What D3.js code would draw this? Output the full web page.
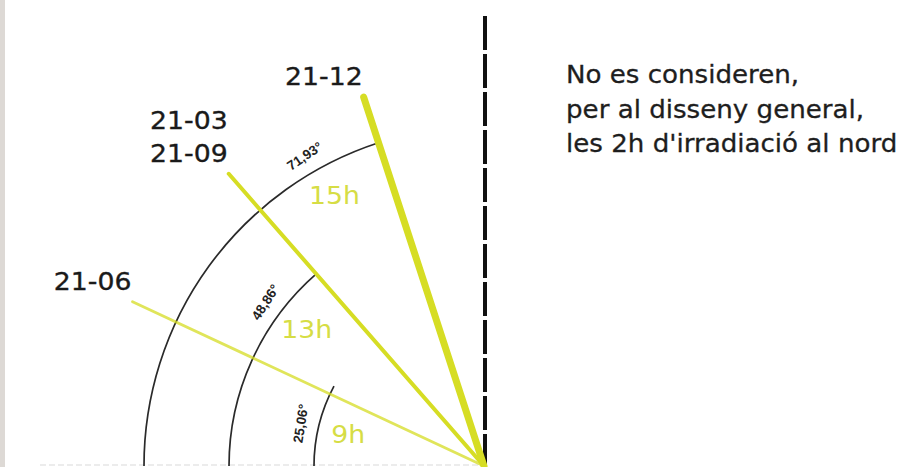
<!DOCTYPE html>
<html>
<head>
<meta charset="utf-8">
<script src="https://cdn.jsdelivr.net/npm/d3@7"></script>
<style>
  html, body { margin: 0; padding: 0; background: #fff; }
  svg { display: block; }
</style>
</head>
<body>
<svg id="chart" width="903" height="467"></svg>
<script>
// ---------- data ----------
const dateLabels   = [["21-06"], ["21-03", "21-09"], ["21-12"]];
const altitudes    = [25.06, 48.86, 71.93];           // degrees
const angleLabels  = ["25,06°", "48,86°", "71,93°"];
const hourLabels   = ["9h", "13h", "15h"];
const noteLines    = ["No es consideren,", "per al disseny general,", "les 2h d'irradiació al nord"];

// ---------- layout ----------
const W = 903, H = 467;
const origin = { x: 484, y: 466 };
const rayLength = 388;
const rayWidths = [2.8, 4, 7];
const yellow = "#d6dd24";
const FONT = "DejaVu Sans, Verdana, sans-serif";
const STRETCH = 1.07;

const svg = d3.select("#chart");

// scales
const deg = d3.scaleLinear().domain([0, 180]).range([0, Math.PI]);
const radius = d3.scaleLinear().domain([0, altitudes.length - 1]).range([170, 340]);

function polar(r, aDeg) {
  const a = deg(aDeg);
  return [origin.x - r * Math.cos(a), origin.y - r * Math.sin(a)];
}

// left grey border strip
svg.append("rect").attr("x", 0).attr("y", 0).attr("width", 5).attr("height", H).attr("fill", "#ddd9d5");

// faint baseline
svg.append("line")
  .attr("x1", 40).attr("x2", origin.x).attr("y1", origin.y - 1).attr("y2", origin.y - 1)
  .attr("stroke", "#e6e6e6").attr("stroke-width", 1.5).attr("stroke-dasharray", "6,3");

// vertical dashed line
svg.append("line")
  .attr("x1", origin.x + 1).attr("x2", origin.x + 1)
  .attr("y1", 16).attr("y2", H)
  .attr("stroke", "#111").attr("stroke-width", 4)
  .attr("stroke-dasharray", "34,4");

const idx = d3.range(altitudes.length);

// arcs
svg.selectAll("path.arc").data(idx).join("path")
  .attr("class", "arc")
  .attr("fill", "none").attr("stroke", "#2a2a2a").attr("stroke-width", 1.7)
  .attr("d", i => {
    const p = d3.path();
    const end = altitudes[i] + (i === 0 ? 3 : 0);
    p.arc(origin.x, origin.y, radius(i), Math.PI, Math.PI + deg(end), false);
    return p.toString();
  });

// rays
svg.selectAll("line.ray").data(idx).join("line")
  .attr("class", "ray")
  .attr("x1", origin.x).attr("y1", origin.y)
  .attr("x2", i => polar(rayLength, altitudes[i])[0])
  .attr("y2", i => polar(rayLength, altitudes[i])[1])
  .attr("stroke", yellow)
  .attr("stroke-width", i => rayWidths[i])
  .attr("stroke-linecap", "round")
  .attr("opacity", i => i === 0 ? 0.75 : 1);

// angle labels along arcs
svg.selectAll("text.angle").data(idx).join("text")
  .attr("class", "angle")
  .attr("transform", i => {
    const a = altitudes[i] - 12;
    const [x, y] = polar(radius(i) + 18, a);
    return `translate(${x},${y}) rotate(${a - 94})`;
  })
  .attr("text-anchor", "middle").attr("dominant-baseline", "central")
  .attr("font-family", "Liberation Sans, Arial, sans-serif")
  .attr("font-size", 13.5).attr("font-weight", "bold").attr("fill", "#222")
  .text(i => angleLabels[i]);

// hour labels
svg.selectAll("text.hour").data(idx).join("text")
  .attr("class", "hour")
  .attr("transform", i => {
    const [x, y] = polar(radius(i) - 28, altitudes[i] - 11);
    return `translate(${x + 2},${y + 11}) scale(${STRETCH},1)`;
  })
  .attr("text-anchor", "middle")
  .attr("font-family", FONT)
  .attr("font-size", 25).attr("fill", "#d6dd45")
  .text(i => hourLabels[i]);

// date labels at ray ends
idx.forEach(i => {
  const [x, y] = polar(rayLength, altitudes[i]);
  const lines = dateLabels[i];
  lines.forEach((s, k) => {
    svg.append("text")
      .attr("transform", `translate(${x - 1},${y - 12 - (lines.length - 1 - k) * 33}) scale(${STRETCH},1)`)
      .attr("text-anchor", "end")
      .attr("font-family", FONT)
      .attr("font-size", 25).attr("fill", "#1a1a1a")
      .attr("stroke", "#1a1a1a").attr("stroke-width", 0.35)
      .text(s);
  });
});

// note text
noteLines.forEach((s, k) => {
  svg.append("text")
    .attr("transform", `translate(566,${83 + k * 34.5}) scale(1.045,1)`)
    .attr("font-family", FONT)
    .attr("font-size", 25).attr("fill", "#1e1e1e")
    .attr("stroke", "#1e1e1e").attr("stroke-width", 0.3)
    .text(s);
});
</script>
</body>
</html>
